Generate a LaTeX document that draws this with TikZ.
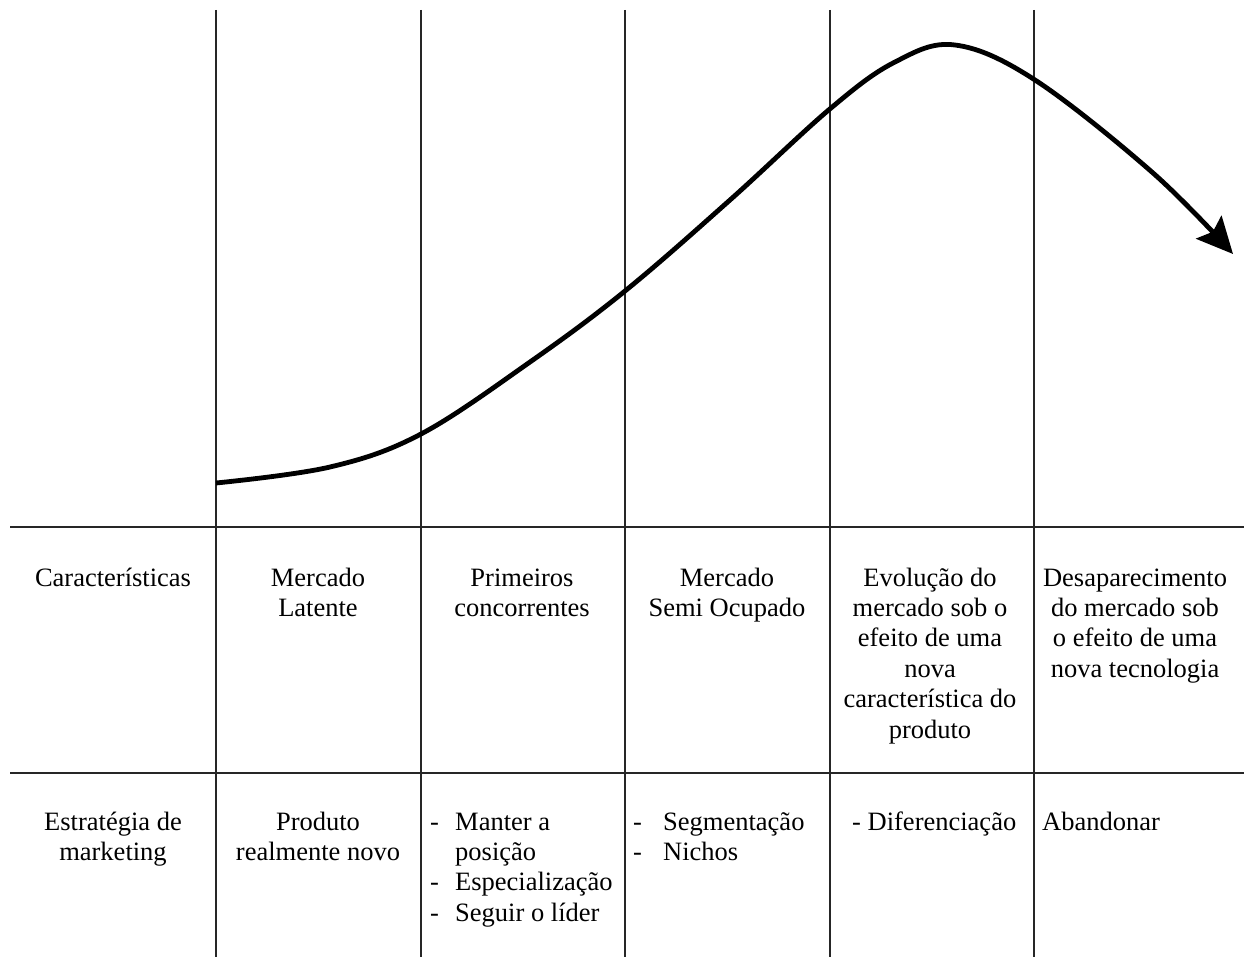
\documentclass[tikz,border=0pt]{standalone}
\usepackage{fontspec}
\setmainfont{Liberation Serif}
\usetikzlibrary{arrows.meta}
\begin{document}
\begin{tikzpicture}[x=1pt,y=-1pt,
  grid/.style={line width=1.1pt, black!85},
  curve/.style={line width=4.8pt, line cap=butt, -{Stealth[length=36pt,width=34pt,inset=6pt]}},
  txt/.style={inner sep=0pt, anchor=north, align=center, font=\fontsize{26.5}{30.4}\selectfont},
  ltxt/.style={inner sep=0pt, anchor=north west, align=left, font=\fontsize{26.5}{30.4}\selectfont}]
\useasboundingbox (0,0) rectangle (1244,957);
% grid
\foreach \x in {216,421,625,830,1034} \draw[grid] (\x,10) -- (\x,957);
\draw[grid] (10,527) -- (1244,527);
\draw[grid] (10,773) -- (1244,773);
% curve
\draw[curve] plot[smooth, tension=0.6] coordinates {(216,483) (330,467) (421,434) (530,362) (625,291) (730,200) (831,108) (895,62) (955,45) (1035,80) (1153,173) (1233,254)};
% row 1 (first baseline 586; north = baseline - 0.7*30.4)
\node[txt] (c0) at (113,564.7) {\strut Características};
\node[txt] (c1) at (318,564.7) {\strut Mercado\\Latente};
\node[txt] (c2) at (522,564.7) {\strut Primeiros\\concorrentes};
\node[txt] (c3) at (727,564.7) {\strut Mercado\\Semi Ocupado};
\node[txt] (c4) at (930,564.7) {\strut Evolução do\\mercado sob o\\efeito de uma\\nova\\característica do\\produto};
\node[txt] (c5) at (1135,564.7) {\strut Desaparecimento\\do mercado sob\\o efeito de uma\\nova tecnologia};
% row 2 (first baseline 830)
\node[txt] (s0) at (113,808.7) {\strut Estratégia de\\marketing};
\node[txt] (s1) at (318,808.7) {\strut Produto\\realmente novo};
\node[ltxt] (d2) at (430,808.7) {\strut-\\\strut\\\strut-\\\strut-};
\node[ltxt] (s2) at (455,808.7) {\strut Manter a\\posição\\Especialização\\Seguir o líder};
\node[ltxt] (d3) at (633,808.7) {\strut-\\\strut-};
\node[ltxt] (s3) at (663,808.7) {\strut Segmentação\\Nichos};
\node[ltxt] (s4) at (852,808.7) {\strut- Diferenciação};
\node[ltxt] (s5) at (1042,808.7) {\strut Abandonar};
\end{tikzpicture}
\end{document}
